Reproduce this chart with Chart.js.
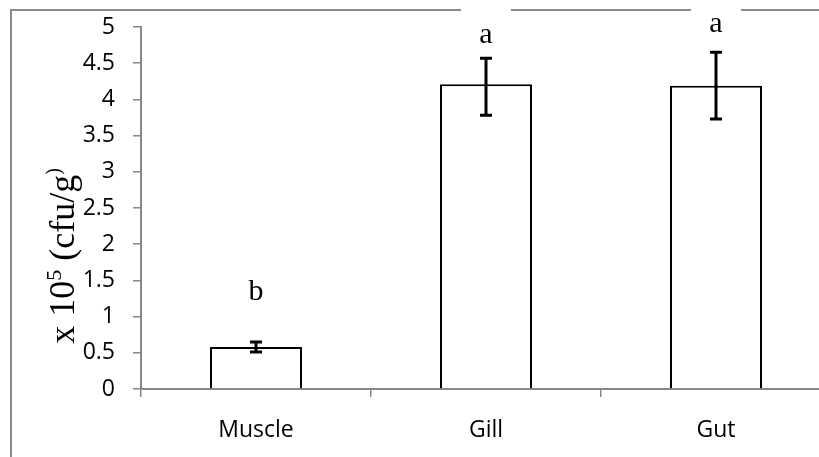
<!DOCTYPE html>
<html>
<head>
<meta charset="utf-8">
<script src="https://cdn.jsdelivr.net/npm/chart.js@4"></script>
<style>
  body { margin: 0; overflow: hidden; background: #fff; }
</style>
</head>
<body>
<canvas id="cfu-chart" width="840" height="457"></canvas>
<script>
// values (x 10^5 cfu/g)
const tissues = ['Muscle', 'Gill', 'Gut'];
const cfuMeans = [0.58, 4.21, 4.19];
const errPlus = [0.07, 0.36, 0.46];
const errMinus = [0.07, 0.43, 0.46];
const letters = ['b', 'a', 'a'];
const yTicks = ['0', '0.5', '1', '1.5', '2', '2.5', '3', '3.5', '4', '4.5', '5'];

const axisGray = '#878787';

// frame, error bars, significance letters and the y title
const notes = {
  id: 'notes',
  beforeDraw(chart) {
    const ctx = chart.ctx;
    ctx.save();
    ctx.strokeStyle = '#8a8a8a';
    ctx.lineWidth = 2;
    ctx.strokeRect(11, 10, 900, 600);
    ctx.restore();
  },
  afterDatasetsDraw(chart, args, opts) {
    const ctx = chart.ctx, x = chart.scales.x, y = chart.scales.y;
    ctx.save();
    ctx.strokeStyle = '#000';
    ctx.lineWidth = 3;
    cfuMeans.forEach((m, i) => {
      const px = x.getPixelForValue(i);
      const top = y.getPixelForValue(m + errPlus[i]);
      const bot = y.getPixelForValue(m - errMinus[i]);
      ctx.beginPath();
      ctx.moveTo(px, top); ctx.lineTo(px, bot);
      ctx.moveTo(px - 6, top); ctx.lineTo(px + 6, top);
      ctx.moveTo(px - 6, bot); ctx.lineTo(px + 6, bot);
      ctx.stroke();
    });

    ctx.font = '30px "Liberation Serif"';
    ctx.textAlign = 'center';
    ctx.textBaseline = 'alphabetic';
    letters.forEach((t, i) => {
      const px = x.getPixelForValue(i);
      const py = y.getPixelForValue(opts.letterY[i]);
      ctx.fillStyle = '#fff';
      ctx.fillRect(px - 25, py - 40, 50, 42);
      ctx.fillStyle = '#000';
      ctx.fillText(t, px, py);
    });

    // rotated title with superscripts
    const parts = [
      ['x 10', 36, 0], ['5', 22, -13], [' (cfu/g', 36, 0], [')', 20, -14]
    ];
    ctx.translate(74, 256);
    ctx.rotate(-Math.PI / 2);
    ctx.textAlign = 'left';
    let total = 0;
    parts.forEach(p => {
      ctx.font = p[1] + 'px "Liberation Serif"';
      total += ctx.measureText(p[0]).width;
    });
    let cx = -total / 2;
    parts.forEach(p => {
      ctx.font = p[1] + 'px "Liberation Serif"';
      ctx.fillText(p[0], cx, p[2]);
      cx += ctx.measureText(p[0]).width;
    });
    ctx.restore();
  }
};

const cfuCtx = document.getElementById('cfu-chart').getContext('2d');
const cfuChart = new Chart(cfuCtx, {
  type: 'bar',
  plugins: [notes],
  data: {
    labels: tissues,
    datasets: [{
      data: cfuMeans,
      backgroundColor: '#fff',
      borderColor: '#000',
      borderWidth: 2,
      categoryPercentage: 1,
      barPercentage: 0.4
    }]
  },
  options: {
    responsive: false,
    animation: false,
    devicePixelRatio: 1,
    layout: { padding: { top: 27, right: 9, left: 0, bottom: 0 } },
    scales: {
      x: {
        grid: { drawOnChartArea: false, tickLength: 8, color: axisGray, lineWidth: 1.5, offset: true },
        border: { color: axisGray, width: 2 },
        ticks: { color: '#000', font: { family: 'Open Sans', size: 23 }, padding: 20 },
        afterFit(s) { s.height = 68; s.paddingLeft = 0; s.paddingRight = 0; }
      },
      y: {
        min: 0,
        max: 5,
        grid: { drawOnChartArea: false, tickLength: 8, color: axisGray, lineWidth: 1.5 },
        border: { color: axisGray, width: 2 },
        ticks: {
          stepSize: 0.5,
          color: '#000',
          font: { family: 'Open Sans', size: 23 },
          padding: 18,
          callback: (v, i) => yTicks[i]
        },
        afterFit(s) { s.width = 141; s.paddingTop = 0; s.paddingBottom = 0; }
      }
    },
    plugins: {
      legend: { display: false },
      tooltip: { enabled: false },
      notes: { letterY: [1.23, 4.78, 4.93] }
    }
  }
});
</script>
</body>
</html>
